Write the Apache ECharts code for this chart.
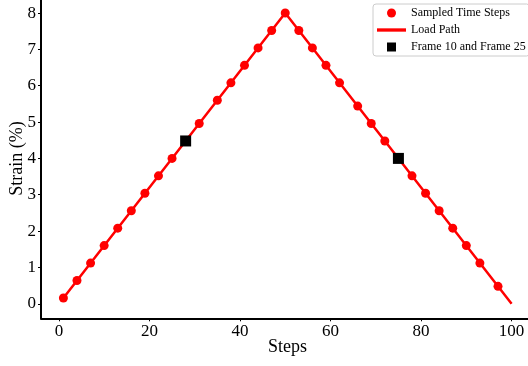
<!DOCTYPE html>
<html>
<head>
<meta charset="utf-8">
<script src="https://cdn.jsdelivr.net/npm/echarts@6/dist/echarts.min.js"></script>
<style>
html,body{margin:0;padding:0;background:#fff;}
#chart{width:528px;height:366px;}
</style>
</head>
<body>
<div id="chart"></div>
<script>
const sampledSteps = [1,4,7,10,13,16,19,22,25,28,31,35,38,41,44,47,50,53,56,59,62,66,69,72,75,78,81,84,87,90,93,97];
const sampledStrain = [0.16,0.64,1.12,1.6,2.08,2.56,3.04,3.52,4.0,4.48,4.96,5.6,6.08,6.56,7.04,7.52,8.0,7.52,7.04,6.56,6.08,5.44,4.96,4.48,4.0,3.52,3.04,2.56,2.08,1.6,1.12,0.48];
const loadSteps = [1, 50, 100];
const loadStrain = [0.16, 8, 0];
const frameSteps = [28, 75];
const frameStrain = [4.48, 4.0];
const xTicks = [0, 20, 40, 60, 80, 100];
const yTicks = [0, 1, 2, 3, 4, 5, 6, 7, 8];

const FONT = 'Liberation Serif';
const zip = (a, b) => a.map((v, i) => [v, b[i]]);

const chart = echarts.init(document.getElementById('chart'), null, {renderer: 'canvas'});
chart.setOption({
  animation: false,
  backgroundColor: '#fff',
  textStyle: {fontFamily: FONT},
  grid: {left: 41, right: -6, top: -1.5, bottom: 47.7, containLabel: false, outerBoundsMode: 'none'},
  xAxis: {
    type: 'value', min: -3.95, max: 104.95,
    name: 'Steps', nameLocation: 'middle', nameGap: 20, nameMoveOverlap: false,
    nameTextStyle: {fontFamily: FONT, fontSize: 18, color: '#000'},
    axisLine: {show: true, onZero: false, lineStyle: {color: '#000', width: 2}},
    axisTick: {show: true, length: 3, lineStyle: {color: '#000', width: 1}, customValues: xTicks},
    axisLabel: {fontFamily: FONT, fontSize: 17, color: '#000', margin: 5, customValues: xTicks},
    splitLine: {show: false}
  },
  yAxis: {
    type: 'value', min: -0.4, max: 8.4,
    name: 'Strain (%)', nameLocation: 'middle', nameGap: 15, nameMoveOverlap: false,
    nameTextStyle: {fontFamily: FONT, fontSize: 18, color: '#000'},
    axisLine: {show: true, onZero: false, lineStyle: {color: '#000', width: 2}},
    axisTick: {show: true, length: 3, lineStyle: {color: '#000', width: 1}, customValues: yTicks},
    axisLabel: {fontFamily: FONT, fontSize: 17, color: '#000', margin: 5, customValues: yTicks},
    splitLine: {show: false}
  },
  legend: {
    orient: 'vertical', left: 373, top: 4,
    padding: [2, 4, 2, 4],
    itemWidth: 29, itemHeight: 9, itemGap: 3,
    backgroundColor: '#fff', borderColor: '#cccccc', borderWidth: 1, borderRadius: 3,
    textStyle: {fontFamily: FONT, fontSize: 12, color: '#000', lineHeight: 14},
    data: [
      {name: 'Sampled Time Steps', icon: 'circle'},
      {name: 'Load Path', icon: 'path://M0,0h26v3h-26z', symbolKeepAspect: true},
      {name: 'Frame 10 and Frame 25', icon: 'path://M0,0h10v10h-10z', symbolKeepAspect: true}
    ]
  },
  series: [
    {
      name: 'Sampled Time Steps', type: 'scatter', data: zip(sampledSteps, sampledStrain),
      symbol: 'circle', symbolSize: 9, itemStyle: {color: '#ff0000', opacity: 1}, z: 2
    },
    {
      name: 'Load Path', type: 'line', data: zip(loadSteps, loadStrain),
      symbol: 'none', lineStyle: {color: '#ff0000', width: 2.5}, itemStyle: {color: '#ff0000'}, z: 3
    },
    {
      name: 'Frame 10 and Frame 25', type: 'scatter', data: zip(frameSteps, frameStrain),
      symbol: 'rect', symbolSize: 11, itemStyle: {color: '#000', opacity: 1}, z: 4
    }
  ]
});
</script>
</body>
</html>
